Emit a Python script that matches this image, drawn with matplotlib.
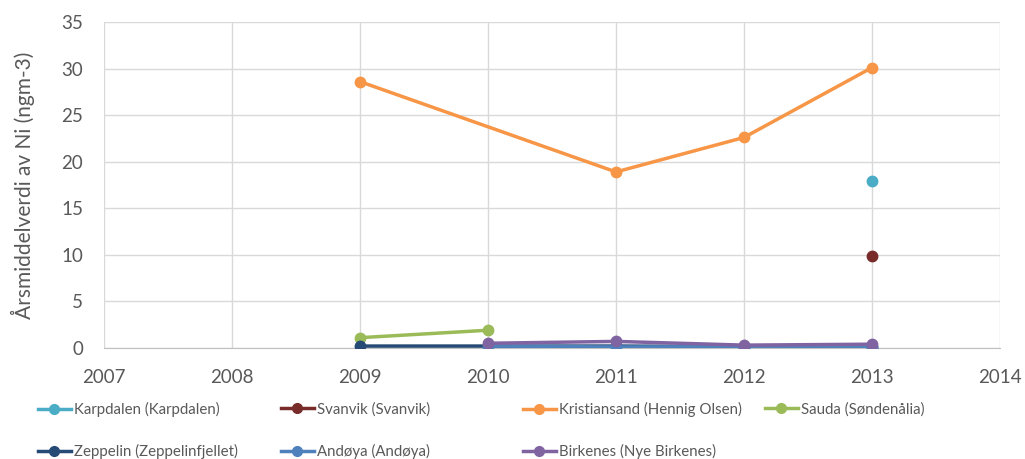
import matplotlib.pyplot as plt
from matplotlib.lines import Line2D
import numpy as np

plt.rcParams['font.family'] = ['Lato', 'DejaVu Sans']

years = [2009, 2010, 2011, 2012, 2013]
names = ["Karpdalen (Karpdalen)", "Svanvik (Svanvik)", "Kristiansand (Hennig Olsen)",
         "Sauda (Søndenålia)", "Zeppelin (Zeppelinfjellet)", "Andøya (Andøya)",
         "Birkenes (Nye Birkenes)"]
karpdalen = [None, None, None, None, 17.9]
svanvik = [None, None, None, None, 9.9]
kristiansand = [28.6, None, 18.9, 22.6, 30.1]
sauda = [1.1, 1.9, None, None, None]
zeppelin = [0.2, 0.2, 0.2, 0.15, 0.15]
andoya = [None, 0.2, 0.1, 0.15, 0.1]
birkenes = [None, 0.5, 0.7, 0.3, 0.4]
series = [karpdalen, svanvik, kristiansand, sauda, zeppelin, andoya, birkenes]
colors = ['#4BACC6', '#772C2A', '#F79646', '#9BBB59', '#254A75', '#4F81BD', '#8064A2']
txt = '#595959'

fig = plt.figure(figsize=(10.25, 4.59), dpi=100)
ax = fig.add_axes([0.1015, 0.242, 0.874, 0.71])

for vals, c in zip(series, colors):
    xs = [y for y, v in zip(years, vals) if v is not None]
    ys = [v for v in vals if v is not None]
    ax.plot(xs, ys, color=c, lw=2.5, marker='o', markersize=7.5, zorder=3)

ax.set_xlim(2007, 2014)
ax.set_ylim(0, 35)
ax.set_xticks(range(2007, 2015))
ax.set_yticks(range(0, 36, 5))
ax.grid(True, color='#D9D9D9', lw=1)
ax.set_axisbelow(True)
for s in ['top', 'right', 'left']:
    ax.spines[s].set_visible(False)
ax.spines['bottom'].set_color('#BFBFBF')
ax.tick_params(length=0, labelsize=13.5, colors=txt)
ax.tick_params(axis='x', pad=15)
ax.tick_params(axis='y', pad=15)
ax.set_ylabel("Årsmiddelverdi av Ni (ngm-3)", fontsize=15, color=txt, labelpad=19)

# legend, Excel-style fixed columns
col_x = [0.037, 0.274, 0.510, 0.746]
row_y = [0.108, 0.016]
for i, (n, c) in enumerate(zip(names, colors)):
    h = Line2D([], [], color=c, lw=2.5, marker='o', markersize=7)
    fig.legend(handles=[h], labels=[n], loc='center left',
               bbox_to_anchor=(col_x[i % 4], row_y[i // 4]), frameon=False,
               fontsize=10.8, handlelength=2.2, handletextpad=0.2,
               borderpad=0, borderaxespad=0, labelcolor=txt)

plt.savefig('out.png', dpi=100)
plt.close()
